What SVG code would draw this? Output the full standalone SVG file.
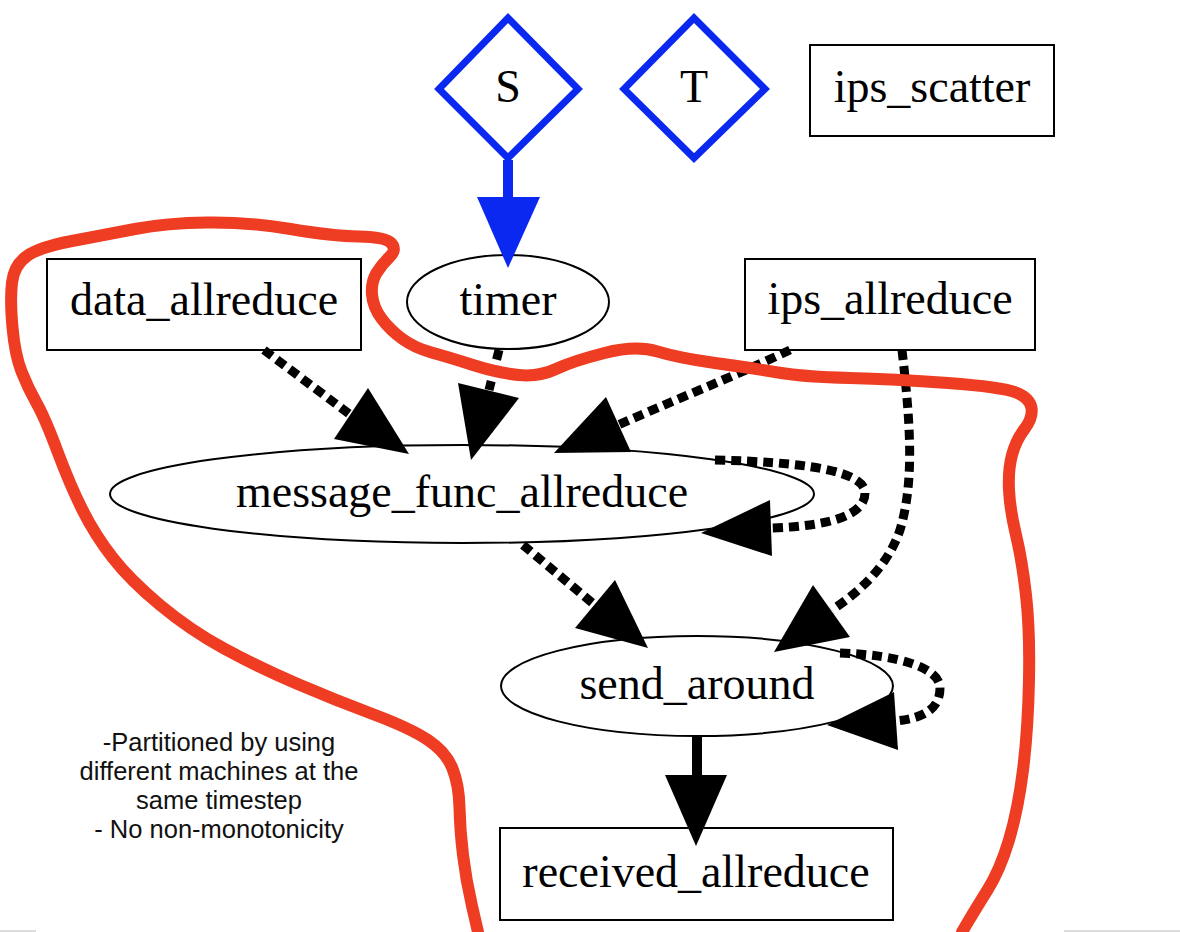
<svg xmlns="http://www.w3.org/2000/svg" width="1180" height="932" viewBox="0 0 1180 932">
<style>
.lbl{font-family:"Liberation Serif","Times New Roman",serif;font-size:46px;fill:#000;text-anchor:middle}
.note{font-family:"Liberation Sans",Arial,sans-serif;font-size:25.5px;fill:#111;text-anchor:middle}
.box{fill:#fff;stroke:#000;stroke-width:2}
.dia{fill:#fff;stroke:#0a28f0;stroke-width:7}
.dash{fill:none;stroke:#000;stroke-width:9;stroke-dasharray:10 6}
.solid{fill:none;stroke:#000;stroke-width:10}
.head{fill:#000;stroke:none}
.blue{fill:none;stroke:#0a28f0;stroke-width:10}
.bhead{fill:#0a28f0;stroke:none}
.red{fill:none;stroke:#ee3d23;stroke-width:12;stroke-linejoin:round;stroke-linecap:round}
</style>
<rect width="1180" height="932" fill="#fff"/>
<g id="node-S"><polygon class="dia" points="508,18 578,89 508,158 439,89"/><text class="lbl" x="508" y="102">S</text></g>
<g id="node-T"><polygon class="dia" points="694,18 765,89 694,158 624,89"/><text class="lbl" x="694" y="102">T</text></g>
<g id="node-ips_scatter"><rect class="box" x="810" y="45" width="244" height="91"/><text class="lbl" x="932" y="102">ips_scatter</text></g>
<g id="node-data_allreduce"><rect class="box" x="47" y="259" width="314" height="91"/><text class="lbl" x="204" y="315">data_allreduce</text></g>
<g id="node-timer"><ellipse class="box" cx="508" cy="302" rx="101" ry="47"/><text class="lbl" x="508" y="315">timer</text></g>
<g id="node-ips_allreduce"><rect class="box" x="745" y="259" width="290" height="91"/><text class="lbl" x="890" y="314">ips_allreduce</text></g>
<g id="node-message_func_allreduce"><ellipse class="box" cx="462" cy="494" rx="352" ry="49"/><text class="lbl" x="462" y="507">message_func_allreduce</text></g>
<g id="node-send_around"><ellipse class="box" cx="697" cy="686" rx="196" ry="50"/><text class="lbl" x="697" y="699">send_around</text></g>
<g id="node-received_allreduce"><rect class="box" x="500" y="828" width="393" height="92"/><text class="lbl" x="696" y="887">received_allreduce</text></g>
<g id="note"><text class="note" x="219" y="751">-Partitioned by using</text><text class="note" x="219" y="780">different machines at the</text><text class="note" x="219" y="809">same timestep</text><text class="note" x="219" y="838">- No non-monotonicity</text></g>
<g id="edges">
<path class="blue" d="M508,160 L508,198"/><polygon class="bhead" points="477,197 540,197 508,268"/>
<path class="dash" d="M264,350 L352,416"/><polygon class="head" points="334,439 368,388 409,454"/>
<path class="dash" d="M499,350 L489,390"/><polygon class="head" points="458,383 519,398 471,460"/>
<path class="dash" d="M790,350 C730,378 670,402 618,425"/><polygon class="head" points="606,397 631,452 554,453"/>
<path class="dash" d="M715,460 C800,462 865,470 865,493 C865,515 830,526 772,528"/><polygon class="head" points="770,500 772,556 701,533"/>
<path class="dash" d="M523,545 L596,606"/><polygon class="head" points="575,628 615,580 648,648"/>
<path class="dash" d="M902,350 C910,420 915,480 900,530 C888,565 862,590 832,610"/><polygon class="head" points="813,585 850,637 774,652"/>
<path class="dash" d="M840,653 C900,655 940,668 940,688 C940,708 925,718 896,721"/><polygon class="head" points="894,692 898,750 827,725"/>
<path class="solid" d="M697,736 L697,777"/><polygon class="head" points="665,775 727,775 696,846"/>
</g>
<g id="outline"><path class="red" d="M478,932 L472,906 Q466,880 463,855 Q460,830 459.5,807.5 Q459,785 452.5,768.5 Q446,752 428,740 Q410,728 372.5,714 Q335,700 296.5,683.5 Q258,667 224,648.5 Q190,630 160,605 Q130,580 112.5,557.5 Q95,535 82.5,510 Q70,485 57.5,451.5 Q45,418 36.5,403 Q28,388 21.5,371.5 Q15,355 12.5,327.5 Q10,300 12,282.5 Q14,265 27,256 Q40,247 72,241 Q104,235 135,229 Q166,223 207.5,222.5 Q249,222 290.5,229 Q332,236 359,236.5 Q386,237 391.5,243.5 Q397,250 389.5,257 Q382,264 376.5,273 Q371,282 372,294.5 Q373,307 381.5,318.5 Q390,330 402.5,339 Q415,348 431.5,352.5 Q448,357 473,365 Q498,373 518.5,375 Q539,377 556,369 Q573,361 604.5,353 Q636,345 657.5,351.5 Q679,358 715,363 Q751,368 778,372.5 Q805,377 849.5,378 Q894,379 948,383 Q1002,387 1016,392.5 Q1030,398 1031.5,408 Q1033,418 1024.5,429 Q1016,440 1012,455 Q1008,470 1009,490 Q1010,510 1016,535 Q1022,560 1026,595 Q1030,630 1029,680 Q1028,730 1023,770 Q1018,810 1009,840 Q1000,870 987.5,890 Q975,910 968.5,921 L962,932"/></g>
<g id="border"><line x1="0" y1="931" x2="36" y2="931" stroke="#ddd" stroke-width="2"/><line x1="1064" y1="931" x2="1180" y2="931" stroke="#ddd" stroke-width="2"/></g>
</svg>
